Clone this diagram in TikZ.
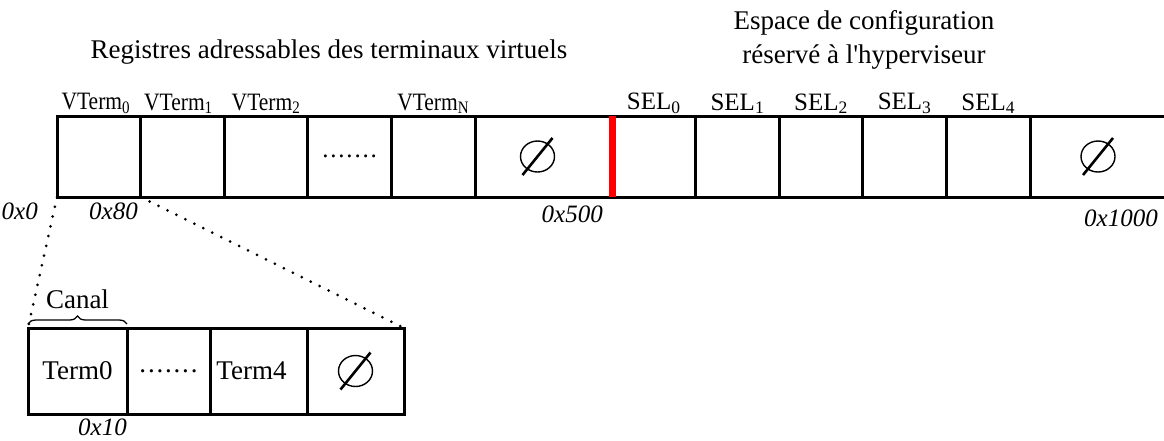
\documentclass[tikz,border=0pt]{standalone}
\usepackage{fontspec}
\setmainfont{Liberation Serif}
\usepackage{graphicx}
\usetikzlibrary{positioning, calc, decorations.pathreplacing}

\newcommand{\vterm}[1]{\scalebox{0.86}[1]{VTerm\textsubscript{#1}}}
\newcommand{\regsel}[1]{SEL\textsubscript{#1}}
\newcommand{\pointilles}{.\kern1.8pt.\kern1.8pt.\kern1.8pt.\kern1.8pt.\kern1.8pt.\kern1.8pt.}

\begin{document}
\begin{tikzpicture}[
    x=1pt, y=-1pt,
    node distance=0pt,
    cellbox/.style={rectangle, draw=black, line width=3pt, inner sep=0pt, outer sep=0pt, minimum width=83.6pt, minimum height=81pt, font=\fontsize{25}{30}\selectfont},
    termbox/.style={cellbox, minimum width=97pt, minimum height=86pt, font=\fontsize{27}{32}\selectfont},
    reglab/.style={inner sep=0pt, font=\fontsize{25}{30}\selectfont},
    adrlab/.style={inner sep=0pt, anchor=north east, font=\fontsize{25}{30}\selectfont\itshape},
    titlelab/.style={inner sep=0pt, anchor=base, font=\fontsize{27}{32}\selectfont},
    zoomline/.style={line width=3pt, line cap=round, dash pattern=on 0pt off 10pt},
    canalbrace/.style={decorate, decoration={brace, amplitude=8pt}, line width=1.3pt},
    limite/.style={draw=red, line width=7pt},
    vide/.pic={
        \draw[line width=1.4pt] (0,0) ellipse [x radius=17pt, y radius=15.5pt];
        \draw[line width=2.6pt] (-15,18.5) -- (15,-18.5);
    }
]
    \useasboundingbox (0,0) rectangle (1164,440);

    % titres
    \node[titlelab] (registres) at (329,58) {Registres adressables des terminaux virtuels};
    \node[titlelab] (espace) at (864,29) {Espace de configuration};
    \node[titlelab] (reserve) at (864,63) {réservé à l\textquotesingle hyperviseur};

    % bande des registres
    \node[cellbox, anchor=north west] (v0) at (57,116) {};
    \node[cellbox, right=of v0] (v1) {};
    \node[cellbox, right=of v1] (v2) {};
    \node[cellbox, right=of v2] (v3) {\pointilles};
    \node[cellbox, right=of v3] (vN) {};
    \node[cellbox, minimum width=137pt, right=of vN] (vnul) {};
    \node[cellbox, right=of vnul] (s0) {};
    \node[cellbox, right=of s0] (s1) {};
    \node[cellbox, right=of s1] (s2) {};
    \node[cellbox, right=of s2] (s3) {};
    \node[cellbox, right=of s3] (s4) {};
    \node[cellbox, minimum width=136pt, right=of s4] (snul) {};
    \pic at ([xshift=-6pt]vnul.center) {vide};
    \pic at (snul.center) {vide};
    \draw[limite] (s0.north west) -- (s0.south west);

    \node[reglab, above=2pt of v0, xshift=-3pt] (lv0) {\vterm{0}};
    \node[reglab, above=2pt of v1, xshift=-4pt] (lv1) {\vterm{1}};
    \node[reglab, above=2pt of v2] (lv2) {\vterm{2}};
    \node[reglab, above=2pt of vN] (lvN) {\vterm{N}};
    \node[reglab, above=2pt of s0] (ls0) {\regsel{0}};
    \node[reglab, above=2pt of s1] (ls1) {\regsel{1}};
    \node[reglab, above=2pt of s2] (ls2) {\regsel{2}};
    \node[reglab, above=2pt of s3] (ls3) {\regsel{3}};
    \node[reglab, above=2pt of s4] (ls4) {\regsel{4}};

    \node[adrlab] (a0) at (38,203) {0x0};
    \node[adrlab] (a80) at (138,203) {0x80};
    \node[adrlab] (a500) at (603,206) {0x500};
    \node[adrlab] (a1000) at (1158,210) {0x1000};

    % detail d'un canal
    \node[termbox, minimum width=99pt, anchor=north west] (t0) at (28,328) {Term0};
    \node[termbox, minimum width=83pt, right=of t0] (t1) {\pointilles};
    \node[termbox, right=of t1] (t4) {\hspace*{-14pt}Term4};
    \node[termbox, right=of t4] (tnul) {};
    \pic at (tnul.center) {vide};
    \node[adrlab] (a10) at (127,419) {0x10};

    \draw[zoomline] (v0.south west) -- (t0.north west);
    \draw[zoomline] (v0.south east) -- (tnul.north east);

    \draw[canalbrace] ([yshift=4pt]t0.north west) -- ([yshift=4pt]t0.north east);
    \node[titlelab] (canal) at ([yshift=20pt]t0.north) {Canal};
\end{tikzpicture}
\end{document}
